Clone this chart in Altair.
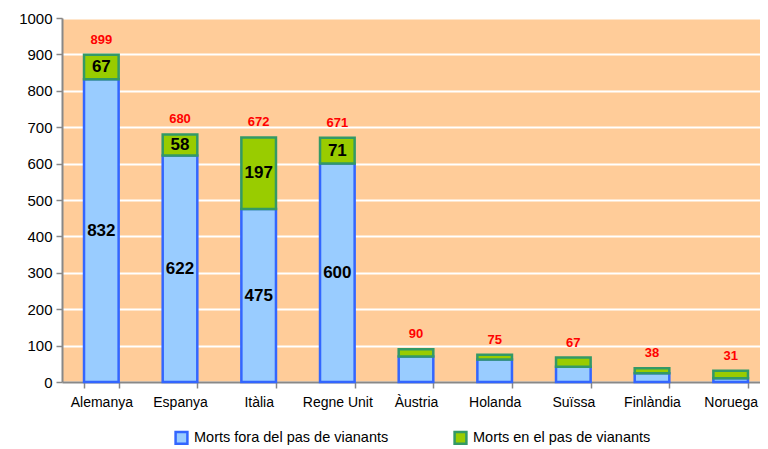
import altair as alt
import pandas as pd

countries = ["Alemanya", "Espanya", "Itàlia", "Regne Unit", "Àustria", "Holanda", "Suïssa", "Finlàndia", "Noruega"]
fora = [832, 622, 475, 600, 70, 62, 42, 24, 10]
en_pas = [67, 58, 197, 71, 20, 13, 25, 14, 21]
totals = [899, 680, 672, 671, 90, 75, 67, 38, 31]
labelled = ["Alemanya", "Espanya", "Itàlia", "Regne Unit"]

s1 = "Morts fora del pas de vianants"
s2 = "Morts en el pas de  vianants"

rows = []
for c, a, b in zip(countries, fora, en_pas):
    rows.append({"pais": c, "serie": s1, "valor": a, "ord": 0, "lab": c in labelled})
    rows.append({"pais": c, "serie": s2, "valor": b, "ord": 1, "lab": c in labelled})
df = pd.DataFrame(rows)
tot = pd.DataFrame({"pais": countries, "total": totals})

FONT = "Liberation Sans"
xaxis = alt.Axis(labelAngle=0, labelFontSize=14, labelFont=FONT, labelColor="black",
                 domainColor="#888888", domainWidth=2, tickColor="#888888", tickWidth=1.5,
                 tickSize=6, tickBand="extent", labelPadding=7)
xscale = alt.Scale(paddingInner=0.56, paddingOuter=0.28, range=[0, 708])
yaxis = alt.Axis(values=list(range(0, 1001, 100)), format="d", labelFontSize=15, labelFont=FONT,
                 labelColor="black", grid=True, gridColor="white", gridWidth=2,
                 domainColor="#888888", domainWidth=2, tickColor="#888888",
                 tickWidth=1.5, tickSize=6, labelPadding=4)
yscale = alt.Scale(domain=[0, 1000], nice=False)

bars = alt.Chart(df).mark_bar(strokeWidth=2.5).encode(
    x=alt.X("pais:N", sort=countries, title=None, scale=xscale, axis=xaxis),
    y=alt.Y("valor:Q", stack="zero", title=None, scale=yscale, axis=yaxis),
    order=alt.Order("ord:Q"),
    color=alt.Color("serie:N", sort=[s1, s2],
                    scale=alt.Scale(domain=[s1, s2], range=["#99CCFF", "#99CC00"]),
                    legend=alt.Legend(title=None, orient="none", legendX=112, legendY=412,
                                      direction="horizontal", symbolType="square", symbolSize=140,
                                      symbolStrokeWidth=2.5, labelFontSize=14.5, labelFont=FONT,
                                      labelColor="black", columnPadding=60, labelOffset=5,
                                      labelLimit=0)),
    stroke=alt.Stroke("serie:N", scale=alt.Scale(domain=[s1, s2], range=["#3366FF", "#339966"]),
                      legend=None),
)

inner = alt.Chart(df).transform_stack(
    stack="valor", as_=["v0", "v1"], groupby=["pais"], sort=[alt.SortField("ord")]
).transform_calculate(
    mid="(datum.v0 + datum.v1) / 2"
).transform_filter("datum.lab").mark_text(
    fontSize=17, fontWeight="bold", font=FONT, color="black", baseline="middle"
).encode(
    x=alt.X("pais:N", sort=countries, title=None, scale=xscale, axis=xaxis),
    y=alt.Y("mid:Q", title=None, scale=yscale, axis=yaxis),
    text=alt.Text("valor:Q"),
)

top = alt.Chart(tot).mark_text(
    fontSize=13, fontWeight="bold", font=FONT, color="#FF0000", baseline="bottom", dy=-8
).encode(
    x=alt.X("pais:N", sort=countries, title=None, scale=xscale, axis=xaxis),
    y=alt.Y("total:Q", title=None, scale=yscale, axis=yaxis),
    text=alt.Text("total:Q"),
)

chart = alt.layer(bars, inner, top).properties(
    width=698, height=364,
    autosize=alt.AutoSizeParams(type="none"),
    padding={"left": 54, "top": 10, "right": 0, "bottom": 66},
).configure_view(fill="#FFCC99", stroke=None)

chart.save("out.html", embed_options={"renderer": "svg", "actions": False})
